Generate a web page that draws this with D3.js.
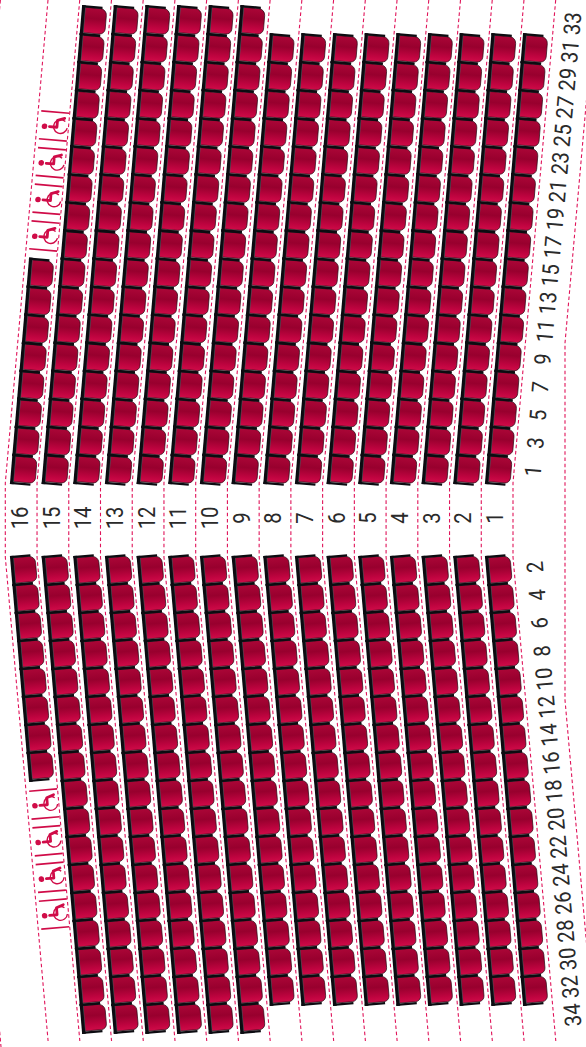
<!DOCTYPE html>
<html>
<head>
<meta charset="utf-8">
<script src="https://cdn.jsdelivr.net/npm/d3@7"></script>
<style>
html,body{margin:0;padding:0;background:#fff;}
svg{display:block;}
text{font-family:"Liberation Sans Narrow","Roboto",sans-serif;font-size:23px;fill:#2a2a2a;text-anchor:middle;dominant-baseline:central;}
</style>
</head>
<body>
<div id="chart"></div>
<script>
var W = 586, H = 1047;
// rows, front to back
var rowLabels = [1,2,3,4,5,6,7,8,9,10,11,12,13,14,15,16];
var oddSeatCounts = [16,16,16,16,16,16,16,16,16,17,17,17,17,17,17,8];
var evenSeatCounts = [16,16,16,16,16,16,16,16,16,17,17,17,17,17,17,8];
var oddSeatLabels = [1,3,5,7,9,11,13,15,17,19,21,23,25,27,29,31,33];
var evenSeatLabels = [2,4,6,8,10,12,14,16,18,20,22,24,26,28,30,32,34];
var wheelchairSpots = [0,1,2,3];
// aisle guides, counted from the front row gap
var guideSteps = [0,1,2,3,4,5,6,7,8,9,10,11,12,13,14,15,16];

var seatW = 25, seatH = 28;
var tilt = 4.85;

var rowX = d3.scaleLinear().domain([1,16]).range([485,10]);
var guideX = d3.scaleLinear().domain([0,16]).range([513,5.3]);
var oddY = d3.scaleLinear().domain([0,17]).range([483,6]);
var evenY = d3.scaleLinear().domain([0,17]).range([557,1033]);
var lean = d3.scaleLinear().domain([0,17]).range([0,40.4]);
var spotY = d3.scaleLinear().domain([0,3]).range([0,110]);
var labelOddY = d3.scaleLinear().domain([0,16]).range([471,23.5]);
var labelEvenY = d3.scaleLinear().domain([0,16]).range([567,1015]);
var labelLean = d3.scaleLinear().domain([0,16]).range([0,39.5]);

var svg = d3.select("#chart").append("svg")
  .attr("width", W).attr("height", H)
  .attr("viewBox", "0 0 "+W+" "+H);

var defs = svg.append("defs");
var grad = defs.append("linearGradient").attr("id","cushion")
  .attr("x1",0).attr("y1",0).attr("x2",0).attr("y2",1);
grad.append("stop").attr("offset","0%").attr("stop-color","#ab0637");
grad.append("stop").attr("offset","42%").attr("stop-color","#98002e");
grad.append("stop").attr("offset","80%").attr("stop-color","#c00440");
grad.append("stop").attr("offset","100%").attr("stop-color","#cf0c48");

var backGrad = defs.append("linearGradient").attr("id","back")
  .attr("x1",0).attr("y1",0).attr("x2",1).attr("y2",0);
backGrad.append("stop").attr("offset","0%").attr("stop-color","#08080d");
backGrad.append("stop").attr("offset","72%").attr("stop-color","#0e0e14");
backGrad.append("stop").attr("offset","100%").attr("stop-color","#55555e");

// a seat is a cushion and a black frame, the frames go on top of all cushions
defs.append("path").attr("id","seatCushion")
  .attr("d","M3,1 H"+(seatW-6.5)+" A6.5,6.5 0 0 1 "+seatW+",7.5 V"+(seatH-7)+" A5.5,5.5 0 0 1 "+(seatW-5.5)+","+(seatH-1.6)+" H3 Z")
  .attr("fill","url(#cushion)")
  .attr("stroke","#2a0a14").attr("stroke-width",0.7);
var frame = defs.append("g").attr("id","seatFrame");
frame.append("rect").attr("x",0).attr("y",-1).attr("width",3.8).attr("height",seatH+2.2).attr("fill","url(#back)");
frame.append("rect").attr("x",0).attr("y",-1.1).attr("width",seatW*0.82).attr("height",2.3).attr("fill","#0c0c11");
frame.append("rect").attr("x",0).attr("y",seatH-1.2).attr("width",seatW*0.82).attr("height",2.3).attr("fill","#0c0c11");

// wheelchair place: two bars and the symbol, upright symbol turned a quarter
var chair = defs.append("g").attr("id","chair");
var pink = "#d00c48";
chair.append("line").attr("x1",-14).attr("x2",14).attr("y1",-14).attr("y2",-14);
chair.append("line").attr("x1",-14).attr("x2",14).attr("y1",14).attr("y2",14);
chair.selectAll("line").attr("stroke",pink).attr("stroke-width",1.7);
var icon = chair.append("g").attr("transform","translate(1,0) rotate(-90)");
icon.append("circle").attr("cx",-1).attr("cy",-10.5).attr("r",2.8).attr("fill",pink);
icon.append("path").attr("d","M-1,-5.5 L-1,2 H6 L8.5,9")
  .attr("fill","none").attr("stroke",pink).attr("stroke-width",2.8).attr("stroke-linejoin","round").attr("stroke-linecap","round");
icon.append("path").attr("d",d3.arc().innerRadius(6.2).outerRadius(7.6)({startAngle:-0.95*Math.PI,endAngle:Math.PI*0.72}))
  .attr("transform","translate(0,5.5)").attr("fill",pink);

// guides
var line = d3.line().x(function(d){return d[0];}).y(function(d){return d[1];});
var guideSlope = 42.7/483;
function guidePts(g){
  return [[g+guideSlope*483,0],[g,483],[g,557],[g+guideSlope*490,1047]];
}
var guideLayer = svg.append("g").attr("fill","none").attr("stroke","#e0145a").attr("stroke-width",1.1).attr("stroke-dasharray","3.6,2.6");
guideLayer.selectAll("path.row").data(guideSteps).enter().append("path").attr("class","row")
  .attr("d",function(d){
    var g = guideX(d), p = guidePts(g);
    p[3] = [g+guideSlope*484,1041];
    return line(p);
  });
// two outer guides, left one only just enters the page
guideLayer.append("path").attr("d",line(guidePts(guideX(17.5))));
guideLayer.append("path").attr("d",line([[565+guideSlope*343,0],[565,343],[565,700],[565+guideSlope*347,1047]]));

// seats
function addSeats(counts, placer){
  var under = svg.append("g"), over = svg.append("g");
  rowLabels.forEach(function(r,k){
    [[under,"#seatCushion"],[over,"#seatFrame"]].forEach(function(layer){
      layer[0].selectAll("use.r"+r).data(d3.range(counts[k])).enter().append("use")
        .attr("class","r"+r)
        .attr("href",layer[1])
        .attr("transform",function(i){return placer(r,i);});
    });
  });
}
addSeats(oddSeatCounts,function(r,i){
  return "translate("+(rowX(r)+lean(i+1))+","+oddY(i+1)+") rotate("+tilt+")";
});
addSeats(evenSeatCounts,function(r,i){
  return "translate("+(rowX(r)+lean(i))+","+evenY(i)+") rotate("+(-tilt)+")";
});

// wheelchair places behind row 16
var chairLayer = svg.append("g");
chairLayer.selectAll("use.top").data(wheelchairSpots).enter().append("use").attr("class","top")
  .attr("href","#chair")
  .attr("transform",function(d){
    var y = 236 - spotY(d);
    return "translate("+(44.3+(236-y)*guideSlope)+","+y+") rotate("+tilt+")";
  });
chairLayer.selectAll("use.bot").data(wheelchairSpots).enter().append("use").attr("class","bot")
  .attr("href","#chair")
  .attr("transform",function(d){
    var y = 804 + spotY(d);
    return "translate("+(44.3+(y-804)*guideSlope)+","+y+") rotate("+(-tilt)+")";
  });

// labels
svg.append("g").selectAll("text").data(rowLabels).enter().append("text")
  .attr("transform",function(d){return "translate("+(rowX(d)+10)+",518) rotate(-90) scale(0.88,1)";})
  .text(function(d){return d;});
svg.append("g").selectAll("text").data(oddSeatLabels).enter().append("text")
  .attr("transform",function(d,i){return "translate("+(533+labelLean(i))+","+labelOddY(i)+") rotate("+(-90+tilt)+") scale(0.88,1)";})
  .text(function(d){return d;});
svg.append("g").selectAll("text").data(evenSeatLabels).enter().append("text")
  .attr("transform",function(d,i){return "translate("+(535+labelLean(i)*0.95)+","+labelEvenY(i)+") rotate("+(-90-tilt)+") scale(0.88,1)";})
  .text(function(d){return d;});
</script>
</body>
</html>
